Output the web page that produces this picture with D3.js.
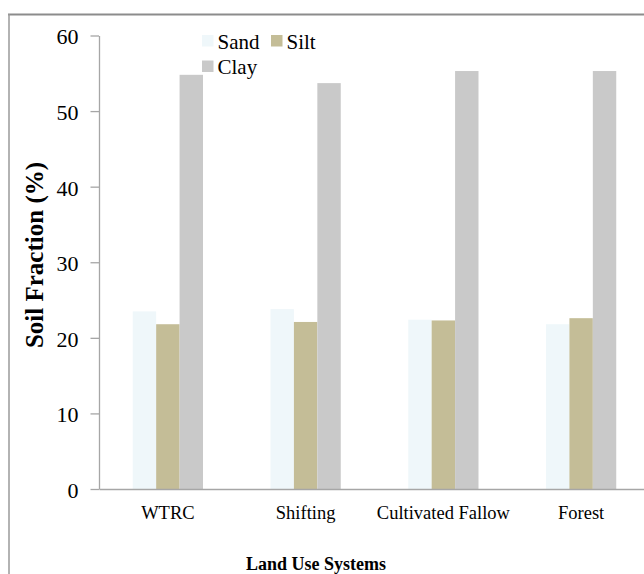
<!DOCTYPE html>
<html>
<head>
<meta charset="utf-8">
<script src="https://cdn.jsdelivr.net/npm/d3@7/dist/d3.min.js"></script>
<style>
  html, body { margin: 0; padding: 0; background: #fff; }
  svg { display: block; }
  svg text { font-family: "Liberation Serif", "Times New Roman", serif !important; fill: #000; }
</style>
</head>
<body>
<svg id="chart" width="644" height="574"></svg>
<script>
const categories = ["WTRC", "Shifting", "Cultivated Fallow", "Forest"];
const seriesNames = ["Sand", "Silt", "Clay"];
const sand = [23.5, 23.8, 22.4, 21.8];
const silt = [21.8, 22.1, 22.3, 22.6];
const clay = [54.8, 53.7, 55.3, 55.3];
const yTicks = [0, 10, 20, 30, 40, 50, 60];
const colors = ["#eff7fa", "#c4bd97", "#c9c9c9"];

const seriesValues = [sand, silt, clay];
const data = categories.map((c, i) => ({
  category: c,
  values: seriesNames.map((s, j) => ({ series: s, value: seriesValues[j][i] }))
}));

const svg = d3.select("#chart");

// outer frame (partially visible)
svg.append("line").attr("x1", 8).attr("x2", 644).attr("y1", 14.5).attr("y2", 14.5)
  .attr("stroke", "#8c8c8c").attr("stroke-width", 2);
svg.append("line").attr("x1", 9).attr("x2", 9).attr("y1", 14).attr("y2", 574)
  .attr("stroke", "#9a9a9a").attr("stroke-width", 1.5);

const x0 = d3.scaleBand().domain(categories).range([99, 650])
  .paddingInner(0.49).paddingOuter(0.245);
const x1 = d3.scaleBand().domain(seriesNames).range([0, x0.bandwidth()]);
const y = d3.scaleLinear().domain([0, 60]).range([489, 35.5]);
const color = d3.scaleOrdinal().domain(seriesNames).range(colors);

// bars
const groups = svg.append("g").selectAll("g").data(data).join("g")
  .attr("transform", d => `translate(${x0(d.category)},0)`);
groups.selectAll("rect").data(d => d.values).join("rect")
  .attr("x", d => x1(d.series))
  .attr("y", d => y(d.value))
  .attr("width", x1.bandwidth())
  .attr("height", d => y(0) - y(d.value))
  .attr("fill", d => color(d.series));

// y axis
const yAxis = svg.append("g").attr("transform", "translate(99,0)")
  .call(d3.axisLeft(y).tickValues(yTicks).tickSize(8.5).tickPadding(12).tickSizeOuter(0));
yAxis.select(".domain").attr("stroke", "#a6a6a6").attr("stroke-width", 1.3);
yAxis.selectAll(".tick line").attr("stroke", "#a6a6a6").attr("stroke-width", 1.3);
yAxis.selectAll(".tick text").attr("font-size", 22).attr("dy", "0.38em");

// x axis
const xAxis = svg.append("g").attr("transform", "translate(0,489)")
  .call(d3.axisBottom(x0).tickSize(0).tickSizeOuter(0));
xAxis.select(".domain").attr("stroke", "#a6a6a6").attr("stroke-width", 1.5);
xAxis.selectAll(".tick text").attr("font-size", 18.5)
  .attr("y", 30).attr("dy", 0);

// axis titles
svg.append("text").attr("transform", "translate(43,255) rotate(-90)")
  .attr("text-anchor", "middle").attr("font-weight", "bold").attr("font-size", 25)
  .text("Soil Fraction (%)");
svg.append("text").attr("x", 316).attr("y", 570)
  .attr("text-anchor", "middle").attr("font-weight", "bold").attr("font-size", 18)
  .text("Land Use Systems");

// legend
const legendPos = [
  { name: "Sand", x: 202, y: 41 },
  { name: "Silt", x: 271, y: 41 },
  { name: "Clay", x: 202, y: 66.5 }
];
const lg = svg.append("g").selectAll("g").data(legendPos).join("g")
  .attr("transform", d => `translate(${d.x},${d.y})`);
lg.append("rect").attr("x", 0).attr("y", -6).attr("width", 11.5).attr("height", 11.5)
  .attr("fill", d => color(d.name));
lg.append("text").attr("x", 15.5).attr("y", 7.5).attr("font-size", 21)
  .text(d => d.name);
</script>
</body>
</html>
